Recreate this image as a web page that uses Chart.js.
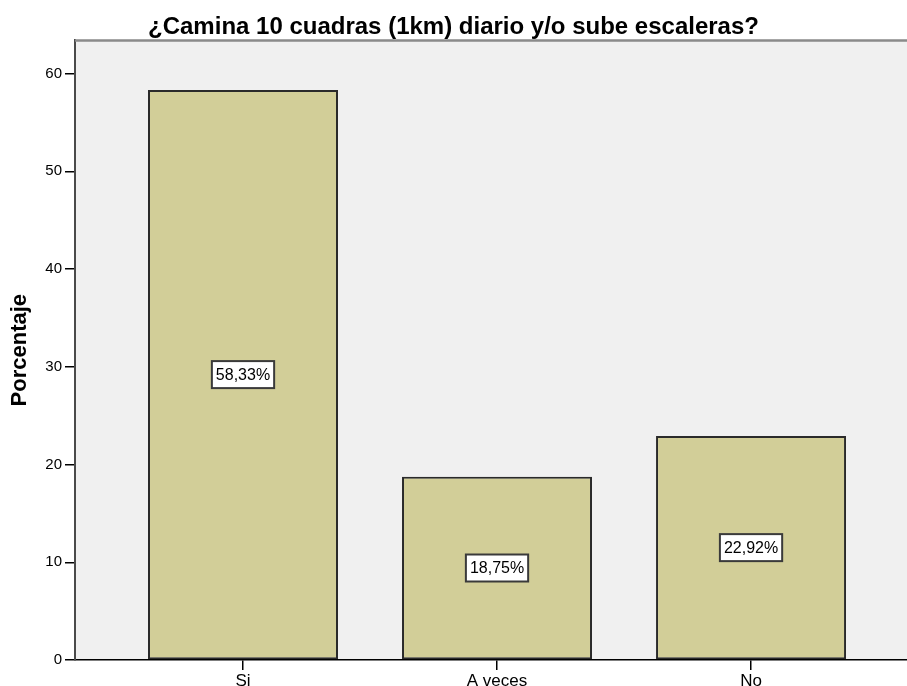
<!DOCTYPE html>
<html>
<head>
<meta charset="utf-8">
<script src="https://cdn.jsdelivr.net/npm/chart.js@4.4.1/dist/chart.umd.min.js"></script>
<style>
  html, body { margin: 0; padding: 0; background: #ffffff; overflow: hidden; }
  #wrap { width: 907px; height: 686px; position: relative; }
</style>
</head>
<body>
<div id="wrap"><canvas id="c"></canvas></div>
<script>
const chartTitle = "¿Camina 10 cuadras (1km) diario y/o sube escaleras?";
const yAxisTitle = "Porcentaje";
const categories = ["Si", "A veces", "No"];
const percentages = [58.33, 18.75, 22.92];
const yTickValues = [0, 10, 20, 30, 40, 50, 60];

const FONT = "'Liberation Sans', Arial, sans-serif";

const plotBg = {
  id: 'plotBg',
  beforeDraw(chart) {
    const { ctx, chartArea: a } = chart;
    ctx.save();
    ctx.fillStyle = '#f0f0f0';
    ctx.fillRect(a.left, a.top, a.right - a.left, a.bottom - a.top);
    ctx.restore();
  },
  afterDraw(chart) {
    const { ctx, chartArea: a } = chart;
    ctx.save();
    ctx.strokeStyle = '#8a8a8a';
    ctx.lineWidth = 2.5;
    ctx.beginPath();
    ctx.moveTo(a.left, a.top);
    ctx.lineTo(a.right, a.top);
    ctx.stroke();
    ctx.restore();
  }
};

const boxLabels = {
  id: 'boxLabels',
  afterDatasetsDraw(chart) {
    const { ctx } = chart;
    const meta = chart.getDatasetMeta(0);
    ctx.save();
    ctx.font = "16px " + FONT;
    ctx.textAlign = 'center';
    ctx.textBaseline = 'middle';
    meta.data.forEach((bar, i) => {
      const v = chart.data.datasets[0].data[i].y;
      const txt = v.toFixed(2).replace('.', ',') + '%';
      const w = ctx.measureText(txt).width + 8;
      const h = 27;
      const cx = bar.x;
      const cy = (bar.y + bar.base) / 2;
      ctx.fillStyle = '#ffffff';
      ctx.fillRect(cx - w / 2, cy - h / 2, w, h);
      ctx.strokeStyle = '#3a3a3a';
      ctx.lineWidth = 2;
      ctx.strokeRect(cx - w / 2, cy - h / 2, w, h);
      ctx.fillStyle = '#000000';
      ctx.fillText(txt, cx, cy + 1);
    });
    ctx.restore();
  }
};

new Chart(document.getElementById('c'), {
  type: 'bar',
  data: {
    datasets: [{
      data: categories.map((c, i) => ({ x: i + 1, y: percentages[i] })),
      backgroundColor: '#d2ce98',
      borderColor: '#2a2a2a',
      borderWidth: 2,
      borderSkipped: false,
      categoryPercentage: 1,
      barPercentage: 0.748
    }]
  },
  options: {
    responsive: true,
    maintainAspectRatio: false,
    animation: false,
    layout: { padding: { left: 0, right: 0, top: 0, bottom: 0 } },
    plugins: {
      legend: { display: false },
      tooltip: { enabled: false },
      title: {
        display: true,
        text: chartTitle,
        color: '#000',
        font: { family: FONT, size: 24, weight: 'bold', lineHeight: 1.1 },
        padding: { top: 14, bottom: 0 }
      }
    },
    scales: {
      x: {
        type: 'linear',
        min: 0.3386,
        max: 3.614,
        offset: false,
        afterBuildTicks(axis) { axis.ticks = categories.map((c, i) => ({ value: i + 1 })); },
        afterFit(scale) { scale.height = 26; },
        ticks: {
          callback: (v) => categories[Math.round(v) - 1] || '',
          color: '#000',
          font: { family: FONT, size: 17 },
          padding: 1,
          maxRotation: 0,
          autoSkip: false
        },
        grid: { offset: false, drawOnChartArea: false, drawTicks: true, tickLength: 10, color: '#000', lineWidth: 1.5 },
        border: { display: true, color: '#000', width: 1.5 }
      },
      y: {
        min: 0,
        max: 63.4,
        afterBuildTicks(axis) { axis.ticks = yTickValues.map(v => ({ value: v })); },
        afterFit(scale) { scale.width = 75; },
        ticks: {
          includeBounds: false,
          stepSize: 10,
          color: '#000',
          font: { family: FONT, size: 15 },
          padding: 3
        },
        grid: { drawOnChartArea: false, drawTicks: true, tickLength: 10, color: '#000', lineWidth: 1.5 },
        border: { display: true, color: '#4a4a4a', width: 2 },
        title: {
          display: true,
          text: yAxisTitle,
          color: '#000',
          font: { family: FONT, size: 22, weight: 'bold' },
          padding: { top: 7, bottom: 0 }
        }
      }
    }
  },
  plugins: [plotBg, boxLabels]
});
</script>
</body>
</html>
